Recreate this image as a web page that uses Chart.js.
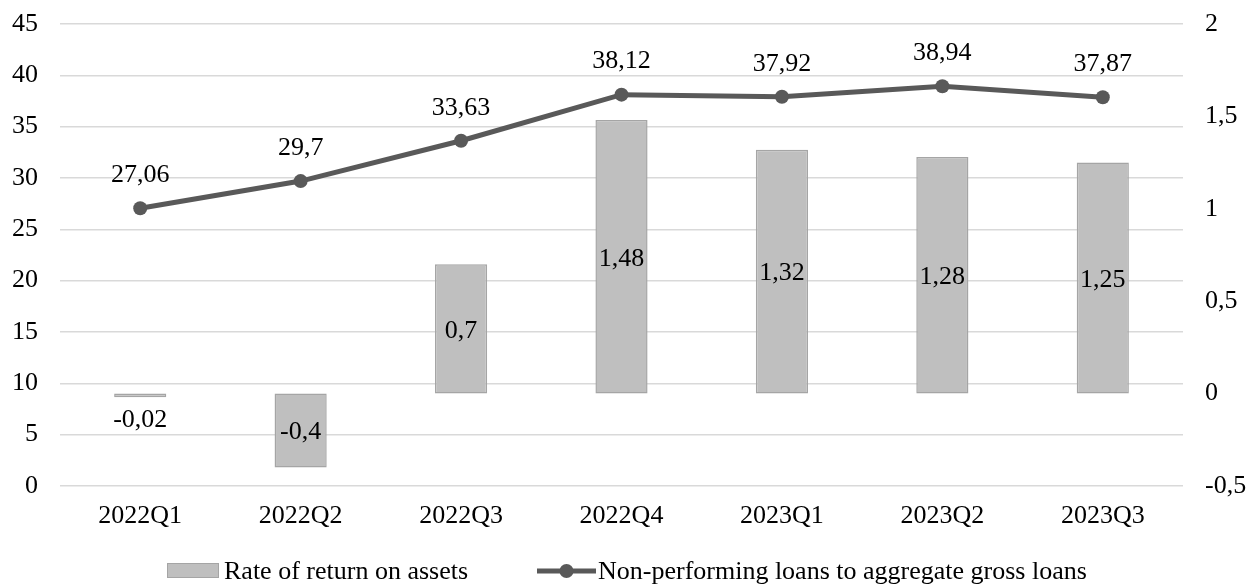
<!DOCTYPE html>
<html>
<head>
<meta charset="utf-8">
<style>
  html, body { margin: 0; padding: 0; background: #ffffff; }
  #wrap { width: 1247px; height: 586px; }
</style>
<script src="https://cdn.jsdelivr.net/npm/chart.js@4.4.1/dist/chart.umd.min.js"></script>
</head>
<body>
<div id="wrap"><canvas id="chart" width="1247" height="586"></canvas></div>
<script>
// Quarterly banking indicators
const categories = ['2022Q1', '2022Q2', '2022Q3', '2022Q4', '2023Q1', '2023Q2', '2023Q3'];
const returnOnAssets = [-0.02, -0.4, 0.7, 1.48, 1.32, 1.28, 1.25];
const nplRatio = [27.06, 29.7, 33.63, 38.12, 37.92, 38.94, 37.87];
const leftTicks = [0, 5, 10, 15, 20, 25, 30, 35, 40, 45];
const rightTicks = [-0.5, 0, 0.5, 1, 1.5, 2];
const seriesNames = ['Rate of return on assets', 'Non-performing loans to aggregate gross loans'];

const FONT = 'Liberation Serif, Times New Roman, serif';
const FONT_SIZE = 26;
const BAR_FILL = '#bfbfbf';
const BAR_EDGE = '#a5a5a5';
const LINE_COLOR = '#595959';

const commaNum = v => String(v).replace('.', ',');

// fixed axis sizes so the plot area sits where it should
function fixVertical(width) {
  return scale => {
    scale.width = width;
    scale.paddingTop = 0;
    scale.paddingBottom = 0;
  };
}

// value labels for bars and line points, plus the bottom legend
const labelPlugin = {
  id: 'valueLabels',
  afterDatasetsDraw(chart) {
    const ctx = chart.ctx;
    ctx.save();
    ctx.font = FONT_SIZE + 'px ' + FONT;
    ctx.fillStyle = '#000000';
    ctx.textAlign = 'center';
    ctx.textBaseline = 'middle';

    const barMeta = chart.getDatasetMeta(1);
    barMeta.data.forEach((bar, i) => {
      const v = returnOnAssets[i];
      const h = Math.abs(bar.base - bar.y);
      let y;
      if (h < 30) {
        y = Math.max(bar.y, bar.base) + 23;
      } else {
        y = (bar.y + bar.base) / 2 + 2;
      }
      ctx.fillText(commaNum(v), bar.x, y);
    });

    const lineMeta = chart.getDatasetMeta(0);
    lineMeta.data.forEach((pt, i) => {
      ctx.fillText(commaNum(nplRatio[i]), pt.x, pt.y - 33);
    });
    ctx.restore();
  },
  afterDraw(chart) {
    const ctx = chart.ctx;
    ctx.save();
    ctx.font = FONT_SIZE + 'px ' + FONT;
    ctx.textBaseline = 'middle';
    ctx.textAlign = 'left';
    const y = 571;
    // bar series key
    ctx.fillStyle = BAR_FILL;
    ctx.fillRect(167, 563, 52, 15);
    ctx.strokeStyle = BAR_EDGE;
    ctx.lineWidth = 1;
    ctx.strokeRect(167.5, 563.5, 51, 14);
    ctx.fillStyle = '#000000';
    ctx.fillText(seriesNames[0], 224, y + 1);
    // line series key
    ctx.strokeStyle = LINE_COLOR;
    ctx.lineWidth = 5;
    ctx.beginPath();
    ctx.moveTo(537, y);
    ctx.lineTo(596, y);
    ctx.stroke();
    ctx.fillStyle = LINE_COLOR;
    ctx.beginPath();
    ctx.arc(566.5, y, 7, 0, Math.PI * 2);
    ctx.fill();
    ctx.fillStyle = '#000000';
    ctx.fillText(seriesNames[1], 598, y + 1);
    ctx.restore();
  }
};

new Chart(document.getElementById('chart'), {
  data: {
    labels: categories,
    datasets: [
      {
        type: 'line',
        label: seriesNames[1],
        data: nplRatio,
        yAxisID: 'y',
        borderColor: LINE_COLOR,
        backgroundColor: LINE_COLOR,
        borderWidth: 5,
        pointRadius: 7,
        pointBackgroundColor: LINE_COLOR,
        pointBorderWidth: 0,
        tension: 0,
        order: 0
      },
      {
        type: 'bar',
        label: seriesNames[0],
        data: returnOnAssets,
        yAxisID: 'y1',
        backgroundColor: BAR_FILL,
        borderColor: BAR_EDGE,
        borderWidth: 1.5,
        borderSkipped: false,
        categoryPercentage: 1,
        barPercentage: 0.325,
        order: 1
      }
    ]
  },
  options: {
    responsive: false,
    animation: false,
    devicePixelRatio: 1,
    layout: { padding: { top: 24, bottom: 0, left: 0, right: 0 } },
    plugins: {
      legend: { display: false },
      tooltip: { enabled: false }
    },
    scales: {
      x: {
        grid: { display: false, drawTicks: false },
        border: { display: false },
        ticks: {
          color: '#000000',
          font: { family: FONT, size: FONT_SIZE },
          padding: 15,
          maxRotation: 0
        },
        afterFit(scale) {
          scale.height = 100;
          scale.paddingLeft = 0;
          scale.paddingRight = 0;
        }
      },
      y: {
        position: 'left',
        min: 0,
        max: 45,
        afterBuildTicks(scale) { scale.ticks = leftTicks.map(v => ({ value: v })); },
        grid: { color: '#d9d9d9', lineWidth: 1.5, drawTicks: false },
        border: { display: false },
        ticks: {
          color: '#000000',
          font: { family: FONT, size: FONT_SIZE },
          padding: 22,
          callback: v => commaNum(v)
        },
        afterFit: fixVertical(60)
      },
      y1: {
        position: 'right',
        min: -0.5,
        max: 2,
        afterBuildTicks(scale) { scale.ticks = rightTicks.map(v => ({ value: v })); },
        grid: { display: false, drawTicks: false },
        border: { display: false },
        ticks: {
          color: '#000000',
          font: { family: FONT, size: FONT_SIZE },
          padding: 22,
          callback: v => commaNum(v)
        },
        afterFit: fixVertical(64)
      }
    }
  },
  plugins: [labelPlugin]
});
</script>
</body>
</html>
